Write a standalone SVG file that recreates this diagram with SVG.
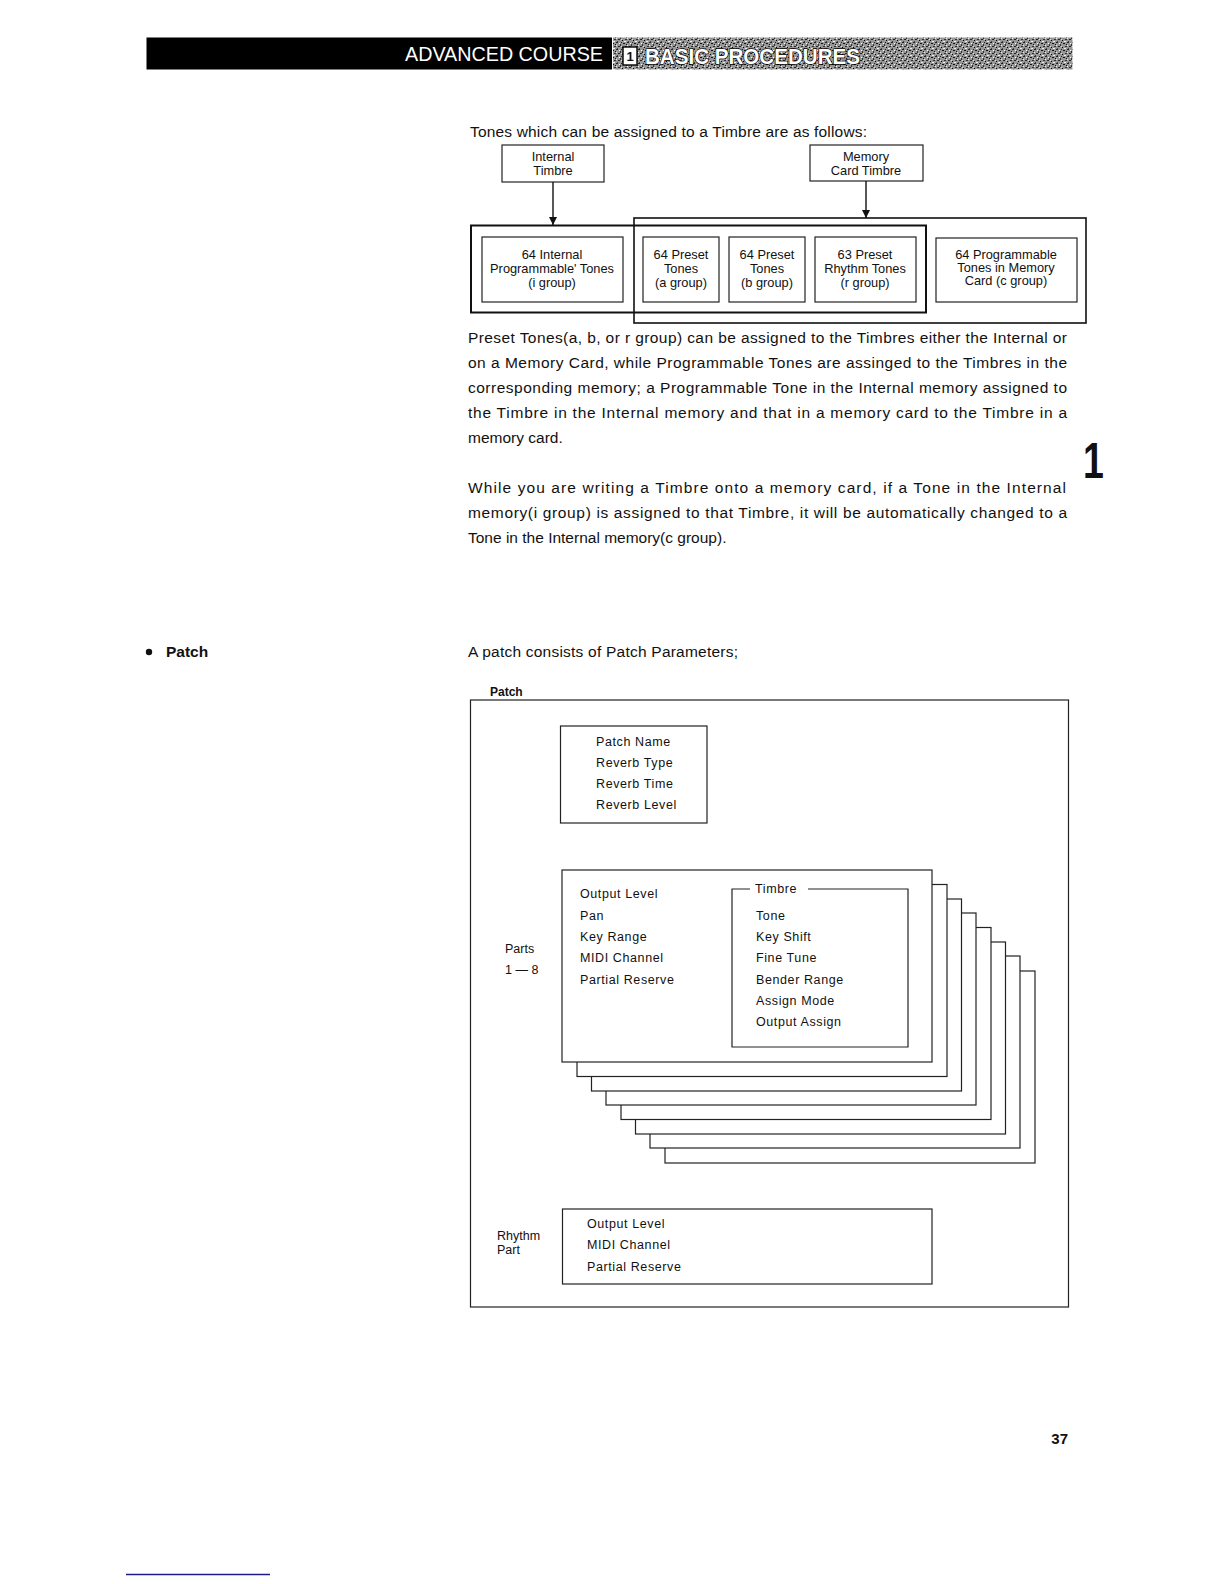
<svg xmlns="http://www.w3.org/2000/svg" width="1224" height="1584" viewBox="0 0 1224 1584">
<style>
text{font-family:"Liberation Sans",Arial,sans-serif;fill:#111}
.body{font-size:15.5px}
.small{font-size:12.5px}
.param{font-size:12.5px;letter-spacing:0.6px}
.dia{font-size:12.8px;text-anchor:middle}
.box{fill:#fff;stroke:#222;stroke-width:1.2}
.thin{fill:none;stroke:#222;stroke-width:1.2}
.heavy{fill:none;stroke:#111;stroke-width:2}
.conn{fill:none;stroke:#111;stroke-width:1.4}
</style>
<defs>
<marker id="arr" viewBox="0 0 10 10" refX="10" refY="5" markerWidth="9" markerHeight="8" markerUnits="userSpaceOnUse" orient="auto">
<path d="M0,0 L10,5 L0,10 z" fill="#111"/>
</marker>
<pattern id="tex" width="11" height="7" patternUnits="userSpaceOnUse">
<rect width="11" height="7" fill="#979797"/>
<rect x="0" y="0" width="2" height="1" fill="#222"/>
<rect x="4" y="2" width="1" height="2" fill="#333"/>
<rect x="7" y="1" width="2" height="1" fill="#111"/>
<rect x="2" y="4" width="2" height="1" fill="#222"/>
<rect x="6" y="5" width="1" height="1" fill="#000"/>
<rect x="9" y="4" width="2" height="1" fill="#333"/>
<rect x="1" y="6" width="1" height="1" fill="#444"/>
<rect x="10" y="2" width="1" height="1" fill="#111"/>
<rect x="5" y="0" width="1" height="1" fill="#222"/>
<rect x="8" y="6" width="2" height="1" fill="#eee"/>
<rect x="3" y="1" width="1" height="1" fill="#fff"/>
<rect x="5" y="4" width="1" height="1" fill="#ddd"/>
<rect x="0" y="3" width="1" height="1" fill="#eee"/>
</pattern>
</defs>
<rect width="1224" height="1584" fill="#fff"/>

<!-- Header -->
<g id="header">
<rect x="146.5" y="37.5" width="465.5" height="32" fill="#000"/>
<rect x="613" y="37.5" width="459.5" height="32" fill="url(#tex)"/>
<text x="405" y="61" font-size="21" textLength="198" lengthAdjust="spacingAndGlyphs" style="fill:#fff">ADVANCED COURSE</text>
<rect x="623" y="47" width="14" height="18" fill="#fff" stroke="#000" stroke-width="1.4"/>
<text x="630" y="61" font-size="13" font-weight="bold" text-anchor="middle">1</text>
<text x="645" y="64" font-size="22" font-weight="bold" textLength="215" lengthAdjust="spacingAndGlyphs" style="fill:#fff;stroke:#000;stroke-width:1.3;paint-order:stroke">BASIC PROCEDURES</text>
</g>

<!-- Intro -->
<text class="body" x="470" y="137" textLength="397" lengthAdjust="spacing">Tones which can be assigned to a Timbre are as follows:</text>

<!-- Top diagram -->
<g id="internal-timbre">
<rect class="box" x="502" y="145" width="102" height="37"/>
<text class="dia" x="553" y="161">Internal</text>
<text class="dia" x="553" y="175">Timbre</text>
</g>
<g id="memory-card-timbre">
<rect class="box" x="810" y="145" width="113" height="36"/>
<text class="dia" x="866" y="161">Memory</text>
<text class="dia" x="866" y="175">Card Timbre</text>
</g>
<g id="memory-card-group">
<rect x="634" y="218" width="452" height="105" fill="none" stroke="#111" stroke-width="1.6"/>
</g>
<g id="internal-group">
<rect class="heavy" x="471" y="225.5" width="455" height="87"/>
</g>
<g id="i-group">
<rect class="box" x="482" y="237" width="141" height="65"/>
<text class="dia" x="552" y="259">64 Internal</text>
<text class="dia" x="552" y="273">Programmable' Tones</text>
<text class="dia" x="552" y="287">(i group)</text>
</g>
<g id="a-group">
<rect class="box" x="643" y="237" width="76" height="65"/>
<text class="dia" x="681" y="259">64 Preset</text>
<text class="dia" x="681" y="273">Tones</text>
<text class="dia" x="681" y="287">(a group)</text>
</g>
<g id="b-group">
<rect class="box" x="729" y="237" width="76" height="65"/>
<text class="dia" x="767" y="259">64 Preset</text>
<text class="dia" x="767" y="273">Tones</text>
<text class="dia" x="767" y="287">(b group)</text>
</g>
<g id="r-group">
<rect class="box" x="815" y="237" width="101" height="65"/>
<text class="dia" x="865" y="259">63 Preset</text>
<text class="dia" x="865" y="273">Rhythm Tones</text>
<text class="dia" x="865" y="287">(r group)</text>
</g>
<g id="c-group">
<rect class="box" x="936" y="238" width="141" height="64"/>
<text class="dia" x="1006" y="259">64 Programmable</text>
<text class="dia" x="1006" y="272">Tones in Memory</text>
<text class="dia" x="1006" y="285">Card (c group)</text>
</g>
<g id="connectors">
<line class="conn" x1="553" y1="182" x2="553" y2="225" marker-end="url(#arr)"/>
<line class="conn" x1="866" y1="181" x2="866" y2="218" marker-end="url(#arr)"/>
</g>

<!-- Paragraphs -->
<g id="paragraphs">
<text class="body" x="468" y="343" textLength="599" lengthAdjust="spacing">Preset Tones(a, b, or r group) can be assigned to the Timbres either the Internal or</text>
<text class="body" x="468" y="368" textLength="599" lengthAdjust="spacing">on a Memory Card, while Programmable Tones are assinged to the Timbres in the</text>
<text class="body" x="468" y="393" textLength="599" lengthAdjust="spacing">corresponding memory; a Programmable Tone in the Internal memory assigned to</text>
<text class="body" x="468" y="418" textLength="599" lengthAdjust="spacing">the Timbre in the Internal memory and that in a memory card to the Timbre in a</text>
<text class="body" x="468" y="443">memory card.</text>
<text class="body" x="468" y="493" textLength="598" lengthAdjust="spacing">While you are writing a Timbre onto a memory card, if a Tone in the Internal</text>
<text class="body" x="468" y="518" textLength="599" lengthAdjust="spacing">memory(i group) is assigned to that Timbre, it will be automatically changed to a</text>
<text class="body" x="468" y="543">Tone in the Internal memory(c group).</text>
</g>

<text x="1083" y="478" font-size="50" font-weight="bold" transform="translate(1083 0) scale(0.75 1) translate(-1083 0)">1</text>

<!-- Patch section -->
<circle cx="149" cy="652" r="3.2" fill="#111"/>
<text class="body" x="166" y="657" font-weight="bold">Patch</text>
<text class="body" x="468" y="657" textLength="270" lengthAdjust="spacing">A patch consists of Patch Parameters;</text>

<g id="patch">
<text x="490" y="696" font-size="12" font-weight="bold">Patch</text>
<rect class="thin" x="470.5" y="700" width="598" height="607"/>
</g>

<g id="patch-common">
<rect class="box" x="560.5" y="726" width="146.5" height="97"/>
<text class="param" x="596" y="746">Patch Name</text>
<text class="param" x="596" y="767">Reverb Type</text>
<text class="param" x="596" y="788">Reverb Time</text>
<text class="param" x="596" y="809">Reverb Level</text>
</g>

<g id="parts-label">
<text class="small" x="505" y="953">Parts</text>
<text class="small" x="505" y="974">1 — 8</text>
</g>

<g id="parts">
<rect class="box" x="665" y="971" width="370" height="192"/>
<rect class="box" x="650" y="956" width="370" height="192"/>
<rect class="box" x="635.5" y="942" width="370" height="192"/>
<rect class="box" x="621" y="927.5" width="370" height="192"/>
<rect class="box" x="606" y="913" width="370" height="192"/>
<rect class="box" x="591.5" y="899" width="370" height="192"/>
<rect class="box" x="577" y="884.5" width="370" height="192"/>
<rect class="box" x="562" y="870" width="370" height="192"/>
<text class="param" x="580" y="898">Output Level</text>
<text class="param" x="580" y="920">Pan</text>
<text class="param" x="580" y="941">Key Range</text>
<text class="param" x="580" y="962">MIDI Channel</text>
<text class="param" x="580" y="984">Partial Reserve</text>
</g>

<g id="timbre">
<path class="thin" d="M750,889 H732 V1047 H908 V889 H808"/>
<text class="param" x="755" y="893">Timbre</text>
<text class="param" x="756" y="920">Tone</text>
<text class="param" x="756" y="941">Key Shift</text>
<text class="param" x="756" y="962">Fine Tune</text>
<text class="param" x="756" y="984">Bender Range</text>
<text class="param" x="756" y="1005">Assign Mode</text>
<text class="param" x="756" y="1026">Output Assign</text>
</g>

<g id="rhythm-label">
<text class="small" x="497" y="1240">Rhythm</text>
<text class="small" x="497" y="1254">Part</text>
</g>

<g id="rhythm-part">
<rect class="box" x="562.5" y="1209" width="369.5" height="75"/>
<text class="param" x="587" y="1228">Output Level</text>
<text class="param" x="587" y="1249">MIDI Channel</text>
<text class="param" x="587" y="1271">Partial Reserve</text>
</g>

<text x="1068" y="1444" font-size="15" font-weight="bold" text-anchor="end">37</text>
<line x1="126" y1="1574.5" x2="270" y2="1574.5" stroke="#1c1c8c" stroke-width="1.6"/>
</svg>
